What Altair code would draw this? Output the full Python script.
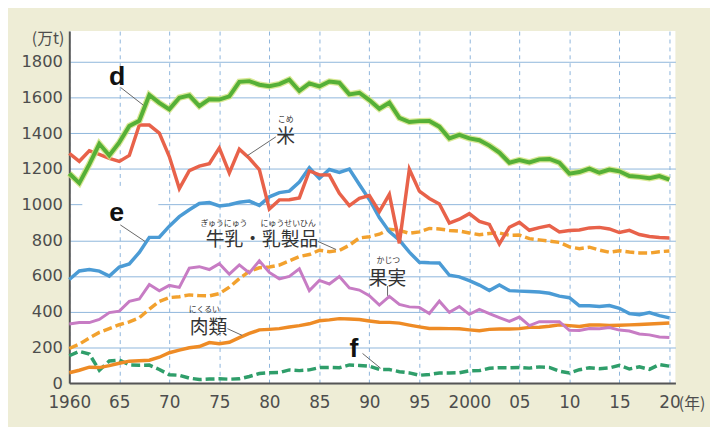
import altair as alt
import pandas as pd

years = list(range(1960, 2021))

# 万t
vegetables_d = [1174, 1120, 1225, 1340, 1275, 1348, 1440, 1469, 1613, 1569,
                1533, 1598, 1611, 1551, 1590, 1588, 1606, 1687, 1691, 1671,
                1663, 1674, 1699, 1636, 1678, 1661, 1689, 1682, 1617, 1626,
                1585, 1536, 1570, 1485, 1462, 1467, 1468, 1436, 1370, 1390,
                1370, 1360, 1330, 1291, 1234, 1249, 1236, 1253, 1255, 1234,
                1173, 1182, 1201, 1178, 1196, 1186, 1160, 1155, 1147, 1159,
                1140]
rice = [1286, 1242, 1301, 1281, 1258, 1241, 1275, 1445, 1445, 1400,
        1269, 1089, 1190, 1215, 1229, 1317, 1177, 1310, 1259, 1196,
        975, 1026, 1027, 1037, 1188, 1166, 1165, 1063, 994, 1035,
        1050, 960, 1057, 783, 1198, 1075, 1034, 1003, 896, 918,
        949, 906, 889, 779, 873, 900, 856, 871, 882, 847,
        855, 857, 869, 872, 863, 843, 855, 832, 821, 815,
        812]
fish_e = [580, 628, 636, 627, 599, 650, 667, 732, 816, 817,
          879, 932, 971, 1006, 1011, 992, 999, 1013, 1019, 995,
          1043, 1067, 1075, 1126, 1206, 1146, 1196, 1180, 1199, 1112,
          1028, 927, 848, 801, 733, 677, 674, 673, 604, 595,
          574, 549, 519, 549, 518, 515, 513, 510, 503, 487,
          478, 433, 433, 429, 434, 419, 389, 383, 395, 378,
          365]
fruit = [331, 339, 339, 357, 395, 403, 458, 471, 552, 517,
         547, 536, 644, 652, 636, 669, 610, 662, 617, 685,
         620, 584, 597, 640, 518, 575, 555, 597, 533, 521,
         490, 437, 486, 441, 427, 424, 390, 459, 396, 429,
         385, 413, 389, 367, 346, 370, 322, 344, 344, 344,
         296, 295, 306, 304, 311, 297, 292, 275, 270, 258,
         255]
milk = [194, 218, 253, 284, 305, 327, 343, 366, 414, 458,
        479, 484, 494, 490, 488, 501, 537, 585, 626, 646,
        650, 661, 685, 709, 720, 744, 736, 743, 772, 813,
        820, 834, 862, 855, 839, 847, 866, 863, 855, 851,
        841, 831, 838, 841, 828, 829, 809, 802, 795, 788,
        763, 753, 761, 745, 733, 741, 734, 729, 728, 736,
        740]
meat = [58, 72, 89, 87, 98, 111, 123, 125, 128, 145,
        170, 185, 198, 205, 227, 220, 229, 255, 278, 298,
        301, 305, 314, 322, 332, 349, 354, 361, 359, 356,
        348, 341, 340, 336, 325, 315, 306, 306, 305, 304,
        298, 293, 301, 303, 303, 305, 312, 313, 318, 326,
        322, 317, 325, 326, 323, 324, 326, 328, 331, 334,
        337]
wheat_f = [153, 178, 163, 72, 124, 129, 102, 100, 101, 76,
           47, 44, 28, 20, 23, 24, 22, 24, 37, 54,
           58, 59, 74, 70, 74, 87, 88, 86, 102, 99,
           95, 76, 76, 64, 57, 44, 48, 57, 57, 58,
           69, 70, 83, 86, 86, 88, 84, 91, 88, 67,
           57, 75, 86, 81, 85, 100, 79, 91, 77, 104,
           95]

tick_years = [1960, 1965, 1970, 1975, 1980, 1985, 1990, 1995, 2000, 2005, 2010, 2015, 2020]
tick_values = [0, 200, 400, 600, 800, 1000, 1200, 1400, 1600, 1800]

xscale = alt.Scale(domain=[1960, 2020.6], nice=False, zero=False)
yscale = alt.Scale(domain=[0, 1971], nice=False)

label_font = "Noto Sans CJK JP"
num_font = "DejaVu Sans"
grey = "#4d4d4d"

x_axis = alt.Axis(
    values=tick_years, format="d",
    labelExpr="(datum.value == 1960 || datum.value == 2000) ? datum.label : slice(datum.label, 2)",
    title="(年)", titleX=616, titleY=21, titleAlign="left", titleBaseline="middle",
    titleFontWeight="normal", titleFont=label_font, titleFontSize=16, titleColor=grey,
    grid=True, gridDash=[4, 4], gridColor="#8db4dc", gridWidth=1,
    ticks=False, tickSize=0, labelPadding=20, labelBaseline="middle",
    labelFont=num_font, labelFontSize=17, labelColor=grey, labelFlush=False,
    labelOverlap=False,
    domainColor="#555555", domainWidth=2,
)
y_axis = alt.Axis(
    values=tick_values, format="d",
    title="(万t)", titleAngle=0, titleX=-22, titleY=8, titleAlign="center",
    titleBaseline="middle", titleFontWeight="normal", titleFont=label_font,
    titleFontSize=16, titleColor=grey,
    grid=True, gridColor="#8fb6dc", gridWidth=1,
    ticks=False, tickSize=0, labelPadding=7, labelBaseline="middle",
    labelFont=num_font, labelFontSize=16.5, labelColor=grey, labelOverlap=False,
    domainColor="#555555", domainWidth=2,
)


def X(field):
    return alt.X(field, type="quantitative", scale=xscale, axis=x_axis)


def Y(field):
    return alt.Y(field, type="quantitative", scale=yscale, axis=y_axis)


series = [
    ("wheat_f", wheat_f, "#2f9e6a", 3.5, [9, 4]),
    ("meat", meat, "#ee8b25", 3.5, None),
    ("milk", milk, "#f2a12e", 3.5, [9, 4]),
    ("fruit", fruit, "#c77cc4", 3, None),
    ("fish_e", fish_e, "#4b9bd5", 3.5, None),
    ("rice", rice, "#e8624a", 3.5, None),
    ("vegetables_d", vegetables_d, "#55b037", 4, None),
]

# white patch behind the "e" label (hides the 1000 gridline there)
patch = pd.DataFrame({"x": [1961.3], "x2": [1968.9], "y": [858], "y2": [1085]})
layers = [alt.Chart(patch).mark_rect(color="white").encode(
    x=X("x"), x2="x2:Q", y=Y("y"), y2="y2:Q")]

for name, vals, color, width, dash in series:
    df = pd.DataFrame({"year": years, "value": vals})
    if name == "vegetables_d":
        layers.append(alt.Chart(df).mark_line(color="#cfe27a", strokeWidth=6.5, opacity=0.8).encode(
            x=X("year"), y=Y("value")))
    kw = dict(color=color, strokeWidth=width)
    if dash:
        kw["strokeDash"] = dash
    layers.append(alt.Chart(df).mark_line(**kw).encode(x=X("year"), y=Y("value")))

# leader lines
lead_x = [1965.14, 1965.1, 1980.65, 1984.87, 1991.82, 1975.81, 1989.32]
lead_y = [1655, 886, 1379, 793, 544, 305, 166]
lead_x2 = [1967.41, 1967.58, 1977.79, 1986.68, 1991.82, 1977.29, 1991.13]
lead_y2 = [1556, 793, 1273, 748, 489, 267, 83]
leads = pd.DataFrame({"x": lead_x, "y": lead_y, "x2": lead_x2, "y2": lead_y2})
layers.append(alt.Chart(leads).mark_rule(color="#666666", strokeWidth=1).encode(
    x=X("x"), y=Y("y"), x2="x2:Q", y2="y2:Q"))

# letter labels
letters = ["d", "e", "f"]
letter_x = [1964.79, 1964.74, 1988.46]
letter_y = [1716, 950, 188]
layers.append(alt.Chart(pd.DataFrame({"t": letters, "x": letter_x, "y": letter_y})).mark_text(
    font="Liberation Sans", fontWeight="bold", fontSize=27, color="#111111",
    baseline="middle", align="center").encode(x=X("x"), y=Y("y"), text="t:N"))

# item labels
names = ["米", "牛乳・乳製品", "果実", "肉類"]
name_x = [1981.64, 1973.64, 1991.82, 1973.93]
name_y = [1378, 803, 585, 310]
name_align = ["center", "left", "center", "center"]
for t, xx, yy, al in zip(names, name_x, name_y, name_align):
    layers.append(alt.Chart(pd.DataFrame({"t": [t], "x": [xx], "y": [yy]})).mark_text(
        font=label_font, fontSize=19, color="#333333", baseline="middle", align=al).encode(
        x=X("x"), y=Y("y"), text="t:N"))

# furigana
ruby = ["こめ", "ぎゅうにゅう", "にゅうせいひん", "かじつ", "にくるい"]
ruby_x = [1981.64, 1975.46, 1981.89, 1991.9, 1973.5]
ruby_y = [1475, 890, 890, 683, 407]
layers.append(alt.Chart(pd.DataFrame({"t": ruby, "x": ruby_x, "y": ruby_y})).mark_text(
    font=label_font, fontSize=8, color="#333333", baseline="middle", align="center").encode(
    x=X("x"), y=Y("y"), text="t:N"))

chart = alt.layer(*layers).properties(
    width=613, height=356,
    autosize=alt.AutoSizeParams(type="none"),
    padding={"left": 62, "top": 21, "right": 35, "bottom": 42},
    background="#eeedd6",
).configure_view(fill="white", stroke=None)

chart.save("out.html", embed_options={"renderer": "svg", "actions": False})
